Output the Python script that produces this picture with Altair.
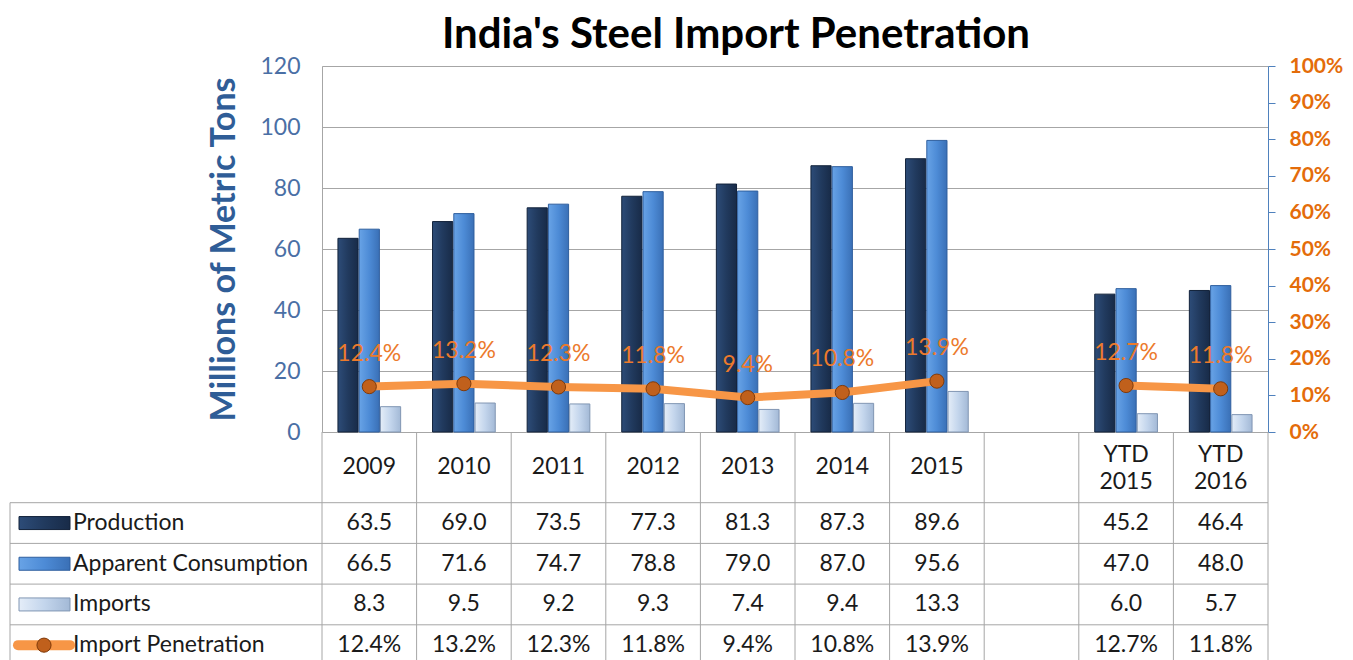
import altair as alt
import pandas as pd

categories = ["2009", "2010", "2011", "2012", "2013", "2014", "2015", "gap", "YTD 2015", "YTD 2016"]
header_labels = ["2009", "2010", "2011", "2012", "2013", "2014", "2015", "", "YTD\n2015", "YTD\n2016"]
production = [63.5, 69.0, 73.5, 77.3, 81.3, 87.3, 89.6, None, 45.2, 46.4]
consumption = [66.5, 71.6, 74.7, 78.8, 79.0, 87.0, 95.6, None, 47.0, 48.0]
imports = [8.3, 9.5, 9.2, 9.3, 7.4, 9.4, 13.3, None, 6.0, 5.7]
penetration = [12.4, 13.2, 12.3, 11.8, 9.4, 10.8, 13.9, None, 12.7, 11.8]
segments = ["annual"] * 7 + [None] + ["ytd"] * 2
series_names = ["Production", "Apparent Consumption", "Imports"]
row_names = ["Production", "Apparent Consumption", "Imports", "Import Penetration"]
left_ticks = [0, 20, 40, 60, 80, 100, 120]
right_ticks = [0, 0.1, 0.2, 0.3, 0.4, 0.5, 0.6, 0.7, 0.8, 0.9, 1.0]

FONT = "Lato"
FS = 23
PLOT_W, PLOT_H = 946, 366
BOTTOM = 594
TABLE_LEFT = -312
GRID = "#a6a6a6"

x_scale = alt.Scale(domain=categories, paddingInner=0, paddingOuter=0)
X = alt.X("category:N", scale=x_scale, axis=None)
XO = alt.XOffset("series:N", scale=alt.Scale(domain=series_names, paddingInner=0.05, paddingOuter=0.75))
row_scale = alt.Scale(domain=row_names, range=[436.7, 599.5], paddingInner=0, paddingOuter=0)
YR = alt.Y("row:N", scale=row_scale, axis=None)

left_axis = alt.Axis(values=left_ticks, title="Millions of Metric Tons", grid=True, ticks=False,
                     labelFont=FONT, labelFontSize=FS, labelColor="#4a6fa5", labelPadding=22,
                     domainColor=GRID, gridColor=GRID, titleFont=FONT, titleFontSize=34,
                     titleFontWeight="bold", titleColor="#2f5d97", titlePadding=18)
YL = alt.Y("value:Q", scale=alt.Scale(domain=[0, 120], nice=False), axis=left_axis)


def grad(c1, c2, c3):
    return alt.Gradient(gradient="linear",
                        stops=[alt.GradientStop(color=c1, offset=0),
                               alt.GradientStop(color=c2, offset=0.5),
                               alt.GradientStop(color=c3, offset=1)],
                        x1=0, x2=1, y1=0, y2=0)


styles = {
    "Production": (grad("#2d4c78", "#213a5e", "#182b48"), "#12223a"),
    "Apparent Consumption": (grad("#68a3e6", "#4d8bd6", "#3a70b6"), "#2f5f9e"),
    "Imports": (grad("#e4edf8", "#c3d5ec", "#a3b9d6"), "#8196b3"),
}
values_by_series = {"Production": production, "Apparent Consumption": consumption, "Imports": imports}

bar_layers = []
for s in series_names:
    df = pd.DataFrame({"category": categories, "series": s, "value": values_by_series[s]}).dropna()
    g, st = styles[s]
    bar_layers.append(alt.Chart(df).mark_bar(color=g, stroke=st, strokeWidth=1).encode(x=X, xOffset=XO, y=YL))
bars = alt.layer(*bar_layers)

pen_df = pd.DataFrame({"category": categories, "pen": [None if p is None else p / 100 for p in penetration],
                       "segment": segments}).dropna()
right_axis = alt.Axis(orient="right", values=right_ticks, format=".0%", grid=False, title=None,
                      labelFont=FONT, labelFontSize=21, labelFontWeight="bold", labelColor="#e46c0a",
                      tickSize=7, tickColor="#4f81bd", domainColor="#4f81bd", labelPadding=14)
YP = alt.Y("pen:Q", scale=alt.Scale(domain=[0, 1], nice=False), axis=right_axis)
line = alt.Chart(pen_df).mark_line(color="#f79646", strokeWidth=8).encode(x=X, y=YP, detail="segment:N")
pts = alt.Chart(pen_df).mark_circle(size=200, color="#c0601c", stroke="#7f3a0a", strokeWidth=1, opacity=1).encode(x=X, y=YP)
lbl = alt.Chart(pen_df).mark_text(dy=-33, fontSize=FS, font=FONT, color="#ec7a2c").encode(
    x=X, y=YP, text=alt.Text("pen:Q", format=".1%"))
pen_layer = alt.layer(line, pts, lbl)

# data table
rows_text = []
for r in row_names:
    for i, c in enumerate(categories):
        if r == "Import Penetration":
            v = penetration[i]
            t = "" if v is None else f"{v:.1f}%"
        else:
            v = values_by_series[r][i]
            t = "" if v is None else f"{v:.1f}"
        rows_text.append({"row": r, "category": c, "text": t})
table_df = pd.DataFrame(rows_text)
rows_df = pd.DataFrame({"row": row_names})

table_text = alt.Chart(table_df).mark_text(fontSize=FS, font=FONT, color="#1a1a1a").encode(
    x=X, y=YR, text="text:N")
hlines = alt.Chart(rows_df).mark_rule(color=GRID, strokeWidth=1).encode(
    y=alt.Y("row:N", scale=row_scale, axis=None, bandPosition=0), x=alt.value(TABLE_LEFT), x2=alt.value(PLOT_W))
legend_text = alt.Chart(rows_df).mark_text(fontSize=FS, font=FONT, color="#1a1a1a", align="left").encode(
    x=alt.value(-249), y=YR, text="row:N")

sw_layers = []
for s in series_names:
    g, st = styles[s]
    d = pd.DataFrame({"row": [s]})
    sw_layers.append(alt.Chart(d).mark_bar(color=g, stroke=st, strokeWidth=1, height=13).encode(
        x=alt.value(-303), x2=alt.value(-252), y=YR))
pen_sw_df = pd.DataFrame({"row": ["Import Penetration"]})
sw_layers.append(alt.Chart(pen_sw_df).mark_rule(color="#f79646", strokeWidth=10, strokeCap="round").encode(
    x=alt.value(-304), x2=alt.value(-252), y=YR))
sw_layers.append(alt.Chart(pen_sw_df).mark_circle(size=200, color="#c0601c", stroke="#7f3a0a", strokeWidth=1, opacity=1).encode(
    x=alt.value(-278), y=YR))

table_layer = alt.layer(table_text, hlines, legend_text, *sw_layers)

cat_df = pd.DataFrame({"category": categories, "label": header_labels})
single_df = cat_df[~cat_df["label"].str.contains("\n")]
multi_df = cat_df[cat_df["label"].str.contains("\n")]
header1 = alt.Chart(single_df).mark_text(fontSize=FS, font=FONT, color="#1a1a1a", baseline="middle").encode(
    x=X, y=alt.value(401), text="label:N")
header2 = alt.Chart(multi_df).mark_text(fontSize=FS, font=FONT, color="#1a1a1a", lineBreak="\n",
                                        lineHeight=27, baseline="middle").encode(
    x=X, y=alt.value(389), text="label:N")
vlines = alt.Chart(cat_df).mark_rule(color=GRID, strokeWidth=1).encode(
    x=alt.X("category:N", scale=x_scale, axis=None, bandPosition=0), y=alt.value(PLOT_H), y2=alt.value(BOTTOM))
edge_df = pd.DataFrame({"edge": ["right", "left"]})
right_edge = alt.Chart(edge_df.iloc[:1]).mark_rule(color=GRID, strokeWidth=1).encode(
    x=alt.value(PLOT_W), y=alt.value(PLOT_H), y2=alt.value(BOTTOM))
left_edge = alt.Chart(edge_df.iloc[1:]).mark_rule(color=GRID, strokeWidth=1).encode(
    x=alt.value(TABLE_LEFT), y=alt.value(436.7), y2=alt.value(BOTTOM))

chart = alt.layer(vlines, right_edge, left_edge, header1, header2, bars, pen_layer, table_layer).resolve_scale(
    y="independent").properties(
    width=PLOT_W, height=PLOT_H,
    autosize=alt.AutoSizeParams(type="none"),
    padding={"left": 314, "top": 58, "right": 77, "bottom": 228},
    title=alt.TitleParams("India's Steel Import Penetration", font=FONT, fontSize=42, fontWeight="bold",
                          color="#000000", anchor="middle", dx=-59, dy=4, offset=2),
).configure_view(stroke=None).configure(font=FONT, background="white")

chart.save("out.html", embed_options={"renderer": "svg", "actions": False})
